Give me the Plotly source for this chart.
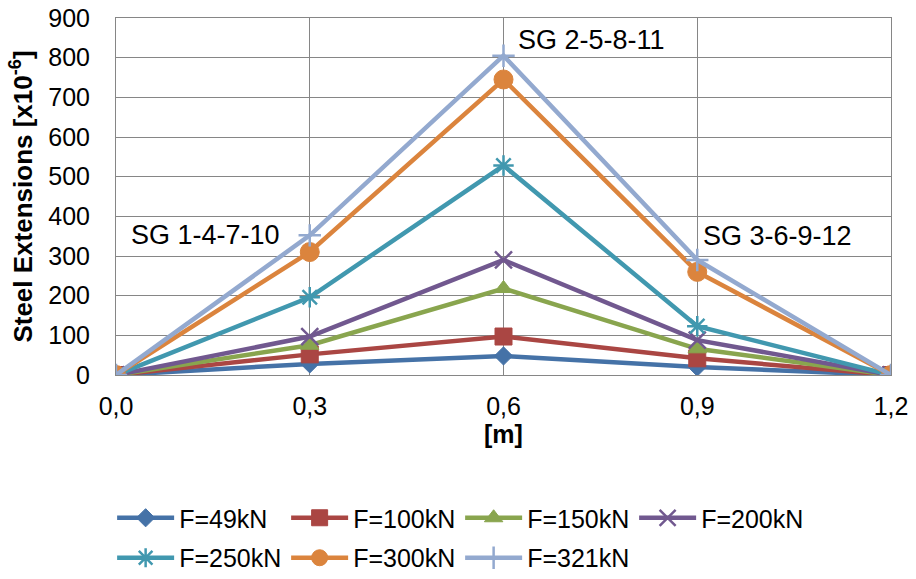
import plotly.graph_objects as go

# Gauge positions along the beam [m]
positions = [0.0, 0.3, 0.6, 0.9, 1.2]
x_tick_labels = ["0,0", "0,3", "0,6", "0,9", "1,2"]

# Steel extensions [x10^-6] for each load level
f49 = [0, 28, 48, 20, 0]
f100 = [0, 52, 97, 42, 0]
f150 = [0, 75, 218, 66, 0]
f200 = [0, 97, 290, 88, 0]
f250 = [0, 196, 528, 123, 0]
f300 = [0, 310, 745, 260, 0]
f321 = [0, 352, 805, 290, 0]

series_names = ["F=49kN", "F=100kN", "F=150kN", "F=200kN", "F=250kN", "F=300kN", "F=321kN"]
series_values = [f49, f100, f150, f200, f250, f300, f321]
colors = ["#4572A7", "#AA4643", "#89A54E", "#71588F", "#4198AF", "#DB843D", "#93A9CF"]
symbols = ["diamond", "square", "triangle-up", "x-thin-open", "asterisk-open", "circle", "cross-thin-open"]
sizes = [14, 17, 16, 17, 17, 19, 16]
outline = [1, 1, 1, 2.5, 2.5, 1, 2.5]

font_family = "Liberation Sans, Arial, sans-serif"

fig = go.Figure()
for i, (name, vals) in enumerate(zip(series_names, series_values)):
    fig.add_trace(go.Scatter(
        x=positions, y=vals, name=name, mode="lines+markers",
        line=dict(color=colors[i], width=4.5),
        marker=dict(symbol=symbols[i], size=sizes[i], color=colors[i],
                    line=dict(color=colors[i], width=outline[i])),
        legend="legend" if i < 4 else "legend2",
    ))

# Strain gauge group labels
gauge_labels = ["SG 1-4-7-10", "SG 2-5-8-11", "SG 3-6-9-12"]
label_x = [0.138, 0.737, 1.025]
label_y = [353, 844, 350]
for txt, lx, ly in zip(gauge_labels, label_x, label_y):
    fig.add_annotation(x=lx, y=ly, text=txt, showarrow=False,
                       xanchor="center", yanchor="middle",
                       font=dict(size=27, color="black", family=font_family))

legend_common = dict(orientation="h", xanchor="left", yanchor="middle",
                     font=dict(size=25, color="black", family=font_family),
                     itemwidth=57, entrywidth=102, bgcolor="rgba(0,0,0,0)")

fig.update_layout(
    width=916, height=579,
    margin=dict(l=116, r=25, t=18, b=204, autoexpand=False),
    paper_bgcolor="white", plot_bgcolor="white",
    font=dict(family=font_family, size=24, color="black"),
    showlegend=True,
    legend=dict(x=-0.005, y=-0.4006, **legend_common),
    legend2=dict(x=-0.005, y=-0.5126, **legend_common),
    xaxis=dict(
        range=[0, 1.2], tickvals=positions, ticktext=x_tick_labels,
        showgrid=True, gridcolor="#868686", gridwidth=1,
        showline=True, linecolor="#868686", linewidth=1, mirror=True,
        zeroline=False, ticks="", tickfont=dict(size=25), ticklabelstandoff=9,
        title=dict(text="<b>[m]</b>", font=dict(size=25), standoff=4),
    ),
    yaxis=dict(
        range=[0, 900], dtick=100,
        showgrid=True, gridcolor="#868686", gridwidth=1,
        showline=True, linecolor="#868686", linewidth=1, mirror=True,
        zeroline=False, ticks="", tickfont=dict(size=25), ticklabelstandoff=20,
        title=dict(text="<b>Steel Extensions [x10<sup>-6</sup>]</b>", font=dict(size=26), standoff=8),
    ),
)

fig.write_html("out.html")
